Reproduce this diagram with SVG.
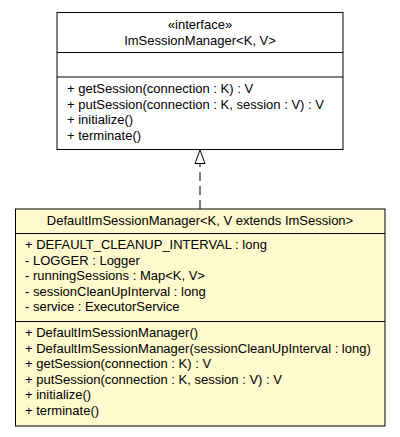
<svg xmlns="http://www.w3.org/2000/svg" width="400" height="437" viewBox="0 0 400 437">
<style>
text { font-family: "Liberation Sans", Arial, sans-serif; font-size: 13px; fill: #000; }
.c { text-anchor: middle; }
.box { stroke: #000; stroke-width: 1; }
.div { stroke: #000; stroke-width: 1; fill: none; }
</style>
<rect width="400" height="437" fill="#fff"/>
<g id="connectors">
  <path d="M200,209 L200,163.5" fill="none" stroke="#000" stroke-width="1" stroke-dasharray="9,5"/>
  <polygon points="200,150 195,163.5 205,163.5" fill="#fff" stroke="#000" stroke-width="1"/>
</g>
<g id="ImSessionManager">
  <rect class="box" x="57" y="12.5" width="286" height="137" fill="#fff"/>
  <line class="div" x1="57" y1="52.5" x2="343" y2="52.5"/>
  <line class="div" x1="57" y1="77" x2="343" y2="77"/>
  <text class="c" x="200" y="29">«interface»</text>
  <text class="c" x="200" y="45">ImSessionManager&lt;K, V&gt;</text>
  <text x="67" y="93">+ getSession(connection : K) : V</text>
  <text x="67" y="108.5">+ putSession(connection : K, session : V) : V</text>
  <text x="67" y="124">+ initialize()</text>
  <text x="67" y="139.5">+ terminate()</text>
</g>
<g id="DefaultImSessionManager">
  <rect class="box" x="15.5" y="209" width="369.5" height="217" fill="#FFFACD"/>
  <line class="div" x1="15.5" y1="233.5" x2="385" y2="233.5"/>
  <line class="div" x1="15.5" y1="321.5" x2="385" y2="321.5"/>
  <text class="c" x="200" y="225">DefaultImSessionManager&lt;K, V extends ImSession&gt;</text>
  <text x="25" y="249">+ DEFAULT_CLEANUP_INTERVAL : long</text>
  <text x="25" y="264.5">- LOGGER : Logger</text>
  <text x="25" y="280">- runningSessions : Map&lt;K, V&gt;</text>
  <text x="25" y="295.5">- sessionCleanUpInterval : long</text>
  <text x="25" y="311">- service : ExecutorService</text>
  <text x="25" y="337">+ DefaultImSessionManager()</text>
  <text x="25" y="352.5">+ DefaultImSessionManager(sessionCleanUpInterval : long)</text>
  <text x="25" y="368">+ getSession(connection : K) : V</text>
  <text x="25" y="383.5">+ putSession(connection : K, session : V) : V</text>
  <text x="25" y="399">+ initialize()</text>
  <text x="25" y="414.5">+ terminate()</text>
</g>
</svg>
